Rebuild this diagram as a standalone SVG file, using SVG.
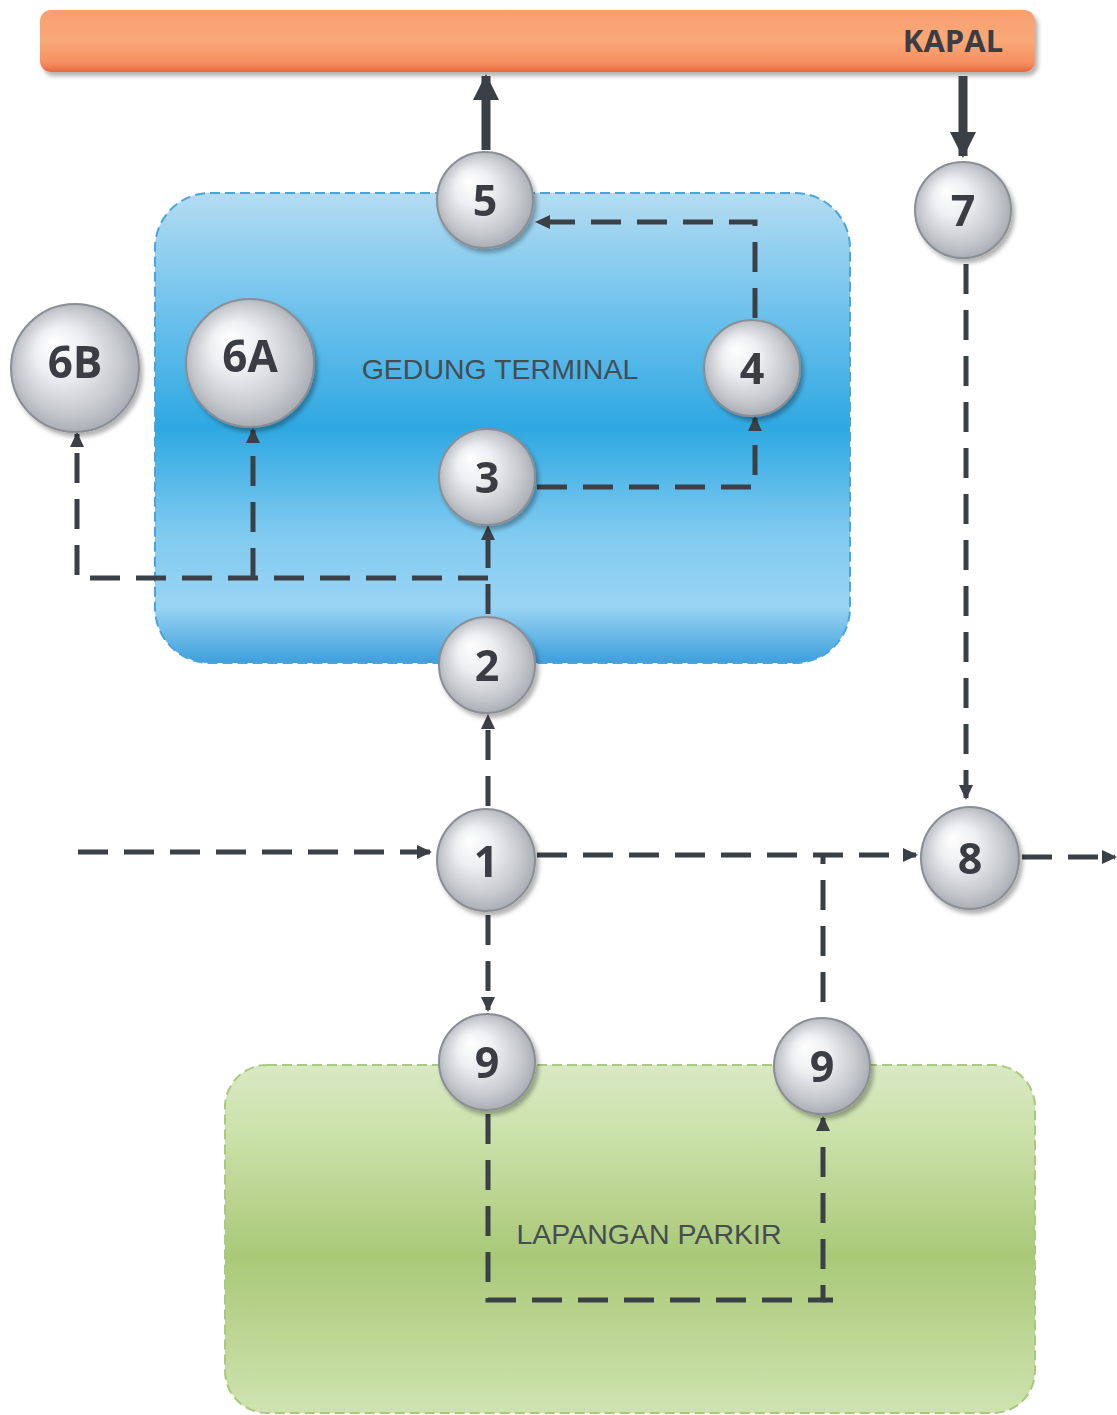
<svg xmlns="http://www.w3.org/2000/svg" width="1117" height="1415" viewBox="0 0 1117 1415">
<style>
.dash{fill:none;stroke:#3b4046;stroke-width:5;stroke-dasharray:30 16}
.solid{fill:none;stroke:#3b4046;stroke-width:9}
.circ{fill:url(#ball);stroke:#8a8e95;stroke-width:2}
.lbl{font-family:"Open Sans","DejaVu Sans",sans-serif;font-weight:bold;fill:#3a3e44;text-anchor:middle}
.area{font-family:"Liberation Sans",Arial,sans-serif;fill:#464c54;text-anchor:middle;font-size:28.5px}
</style>
<defs>
<linearGradient id="orange" x1="0" y1="0" x2="0" y2="1">
<stop offset="0" stop-color="#f7a070"/>
<stop offset="0.5" stop-color="#f9a878"/>
<stop offset="0.85" stop-color="#f59060"/>
<stop offset="1" stop-color="#e8673a"/>
</linearGradient>
<linearGradient id="blue" x1="0" y1="0" x2="0" y2="1">
<stop offset="0" stop-color="#b4dcf2"/>
<stop offset="0.25" stop-color="#6fc2ec"/>
<stop offset="0.5" stop-color="#2ea8e2"/>
<stop offset="0.72" stop-color="#7fcaf0"/>
<stop offset="0.88" stop-color="#9ad4f3"/>
<stop offset="1" stop-color="#3d9fdc"/>
</linearGradient>
<linearGradient id="green" x1="0" y1="0" x2="0" y2="1">
<stop offset="0" stop-color="#d9e9c3"/>
<stop offset="0.2" stop-color="#cbe1aa"/>
<stop offset="0.55" stop-color="#a9c977"/>
<stop offset="1" stop-color="#cfe3b0"/>
</linearGradient>
<radialGradient id="ball" cx="0.5" cy="0.5" r="0.55" fx="0.32" fy="0.3">
<stop offset="0" stop-color="#ffffff"/>
<stop offset="0.35" stop-color="#eeeff1"/>
<stop offset="0.75" stop-color="#c4c7cc"/>
<stop offset="1" stop-color="#a2a6ad"/>
</radialGradient>
<filter id="sh" x="-20%" y="-20%" width="150%" height="150%">
<feDropShadow dx="3" dy="4" stdDeviation="2" flood-color="#000" flood-opacity="0.3"/>
</filter>
<marker id="ah" markerWidth="16" markerHeight="16" refX="13" refY="8" orient="auto" markerUnits="userSpaceOnUse">
<path d="M0,1 L15,8 L0,15 Z" fill="#3b4046"/>
</marker>
<marker id="big" markerWidth="30" markerHeight="30" refX="24" refY="15" orient="auto" markerUnits="userSpaceOnUse">
<path d="M0,2 L26,15 L0,28 Z" fill="#3b4046"/>
</marker>
</defs>
<rect width="1117" height="1415" fill="#ffffff"/>

<g id="kapal">
<rect x="40" y="10" width="995" height="62" rx="11" fill="url(#orange)" filter="url(#sh)"/>
<text x="953" y="52" class="lbl" font-size="31" font-family="Liberation Sans,sans-serif">KAPAL</text>
</g>

<g id="gedung-terminal">
<rect x="155" y="193" width="695" height="470" rx="55" fill="url(#blue)" stroke="#49a5de" stroke-width="2" stroke-dasharray="10 5"/>
<text x="500" y="379" class="area">GEDUNG TERMINAL</text>
</g>

<g id="lapangan-parkir">
<rect x="225" y="1065" width="810" height="348" rx="42" fill="url(#green)" stroke="#a9c980" stroke-width="2" stroke-dasharray="10 5"/>
<text x="649" y="1244" class="area">LAPANGAN PARKIR</text>
</g>

<g id="connectors">
<path class="solid" d="M486,150 V76" marker-end="url(#big)"/>
<path class="solid" d="M963,76 V156" marker-end="url(#big)"/>
<path class="dash" d="M966,264 V798" marker-end="url(#ah)"/>
<path class="dash" d="M78,852 H430" marker-end="url(#ah)"/>
<path class="dash" d="M537,855 H916" marker-end="url(#ah)"/>
<path class="dash" d="M1022,857 H1115" marker-end="url(#ah)"/>
<path class="dash" d="M488,915 V1010" marker-end="url(#ah)"/>
<path class="dash" d="M823,1002 V855"/>
<path class="dash" d="M488,1114 V1300 H823 V1118" marker-end="url(#ah)"/>
<path class="dash" d="M833,1300 H823"/>
<path class="dash" d="M488,806 V716" marker-end="url(#ah)"/>
<path class="dash" d="M488,614 V527" marker-end="url(#ah)"/>
<path class="dash" d="M488,578 H77 V434" marker-end="url(#ah)"/>
<path class="dash" d="M253,578 V430" marker-end="url(#ah)"/>
<path class="dash" d="M537,487 H755 V418" marker-end="url(#ah)"/>
<path class="dash" d="M755,318 V222 H537" marker-end="url(#ah)"/>
</g>

<g id="n5" filter="url(#sh)"><circle class="circ" cx="485" cy="200" r="48"/><text x="485" y="216" class="lbl" font-size="43">5</text></g>
<g id="n7" filter="url(#sh)"><circle class="circ" cx="963" cy="210" r="48"/><text x="963" y="226" class="lbl" font-size="43">7</text></g>
<g id="n6B" filter="url(#sh)"><circle class="circ" cx="75" cy="368" r="64"/><text x="75" y="378" class="lbl" font-size="44">6B</text></g>
<g id="n6A" filter="url(#sh)"><circle class="circ" cx="250" cy="363" r="64"/><text x="250" y="372" class="lbl" font-size="44">6A</text></g>
<g id="n4" filter="url(#sh)"><circle class="circ" cx="752" cy="368" r="48"/><text x="752" y="384" class="lbl" font-size="43">4</text></g>
<g id="n3" filter="url(#sh)"><circle class="circ" cx="487" cy="477" r="48"/><text x="487" y="493" class="lbl" font-size="43">3</text></g>
<g id="n2" filter="url(#sh)"><circle class="circ" cx="487" cy="665" r="48"/><text x="487" y="681" class="lbl" font-size="43">2</text></g>
<g id="n1" filter="url(#sh)"><ellipse class="circ" cx="486" cy="860" rx="49" ry="51"/><text x="486" y="877" class="lbl" font-size="43">1</text></g>
<g id="n8" filter="url(#sh)"><ellipse class="circ" cx="970" cy="858" rx="49" ry="51"/><text x="970" y="874" class="lbl" font-size="43">8</text></g>
<g id="n9a" filter="url(#sh)"><circle class="circ" cx="487" cy="1062" r="48"/><text x="487" y="1078" class="lbl" font-size="43">9</text></g>
<g id="n9b" filter="url(#sh)"><circle class="circ" cx="822" cy="1066" r="48"/><text x="822" y="1082" class="lbl" font-size="43">9</text></g>
</svg>
